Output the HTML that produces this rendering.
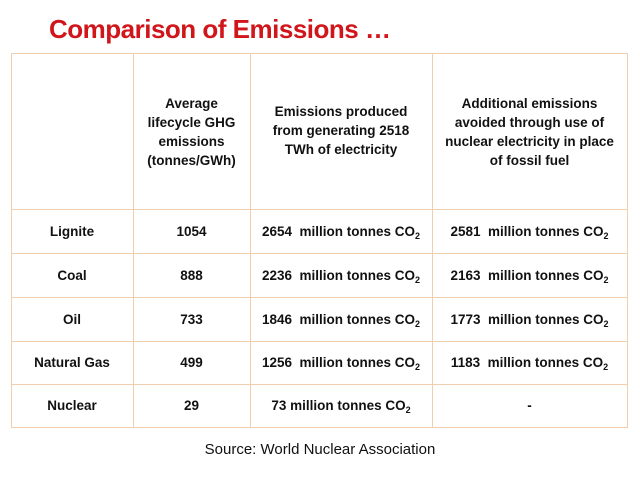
<!DOCTYPE html>
<html><head><meta charset="utf-8"><style>
body{margin:0;width:640px;height:480px;background:#fff;font-family:"Liberation Sans",sans-serif;position:relative;overflow:hidden}
#title{position:absolute;left:49px;top:14px;font-size:26px;font-weight:bold;color:#d0161b;letter-spacing:-0.5px}
.c{position:absolute;box-sizing:border-box;display:flex;align-items:center;justify-content:center;text-align:center;font-size:13.5px;font-weight:bold;color:#111;line-height:19px}
.hl{position:absolute;background:#efcfae;height:1px;left:11px;width:617px}
.vl{position:absolute;background:#efcfae;width:1px;top:53px;height:375px}
sub{font-size:9px;vertical-align:-3px;line-height:0}
#src{position:absolute;left:0;width:640px;text-align:center;top:441px;font-size:15px;color:#111}
</style></head><body>
<div id="title">Comparison of Emissions …</div>
<div>
<div class="hl" style="top:53px"></div><div class="hl" style="top:209px"></div><div class="hl" style="top:253px"></div><div class="hl" style="top:297px"></div><div class="hl" style="top:341px"></div><div class="hl" style="top:384px"></div><div class="hl" style="top:427px"></div>
<div class="vl" style="left:11px"></div><div class="vl" style="left:133px"></div><div class="vl" style="left:250px"></div><div class="vl" style="left:432px"></div><div class="vl" style="left:627px"></div>

<div class="c" style="left:133px;top:89px;width:117px;height:86px"><span>Average<br>lifecycle GHG<br>emissions<br>(tonnes/GWh)</span></div>
<div class="c" style="left:250px;top:97px;width:182px;height:66px"><span>Emissions produced<br>from generating 2518<br>TWh of electricity</span></div>
<div class="c" style="left:432px;top:89px;width:195px;height:86px"><span>Additional emissions<br>avoided through use of<br>nuclear electricity in place<br>of fossil fuel</span></div>

<div class="c" style="left:11px;top:209px;width:122px;height:44px"><span>Lignite</span></div>
<div class="c" style="left:133px;top:209px;width:117px;height:44px"><span>1054</span></div>
<div class="c" style="left:250px;top:209px;width:182px;height:44px"><span>2654&nbsp; million tonnes CO<sub>2</sub></span></div>
<div class="c" style="left:432px;top:209px;width:195px;height:44px"><span>2581&nbsp; million tonnes CO<sub>2</sub></span></div>

<div class="c" style="left:11px;top:253px;width:122px;height:44px"><span>Coal</span></div>
<div class="c" style="left:133px;top:253px;width:117px;height:44px"><span>888</span></div>
<div class="c" style="left:250px;top:253px;width:182px;height:44px"><span>2236&nbsp; million tonnes CO<sub>2</sub></span></div>
<div class="c" style="left:432px;top:253px;width:195px;height:44px"><span>2163&nbsp; million tonnes CO<sub>2</sub></span></div>

<div class="c" style="left:11px;top:297px;width:122px;height:44px"><span>Oil</span></div>
<div class="c" style="left:133px;top:297px;width:117px;height:44px"><span>733</span></div>
<div class="c" style="left:250px;top:297px;width:182px;height:44px"><span>1846&nbsp; million tonnes CO<sub>2</sub></span></div>
<div class="c" style="left:432px;top:297px;width:195px;height:44px"><span>1773&nbsp; million tonnes CO<sub>2</sub></span></div>

<div class="c" style="left:11px;top:341px;width:122px;height:43px"><span>Natural Gas</span></div>
<div class="c" style="left:133px;top:341px;width:117px;height:43px"><span>499</span></div>
<div class="c" style="left:250px;top:341px;width:182px;height:43px"><span>1256&nbsp; million tonnes CO<sub>2</sub></span></div>
<div class="c" style="left:432px;top:341px;width:195px;height:43px"><span>1183&nbsp; million tonnes CO<sub>2</sub></span></div>

<div class="c" style="left:11px;top:384px;width:122px;height:43px"><span>Nuclear</span></div>
<div class="c" style="left:133px;top:384px;width:117px;height:43px"><span>29</span></div>
<div class="c" style="left:250px;top:384px;width:182px;height:43px"><span>73 million tonnes CO<sub>2</sub></span></div>
<div class="c" style="left:432px;top:384px;width:195px;height:43px"><span>-</span></div>
</div>
<div id="src">Source: World Nuclear Association</div>
</body></html>
